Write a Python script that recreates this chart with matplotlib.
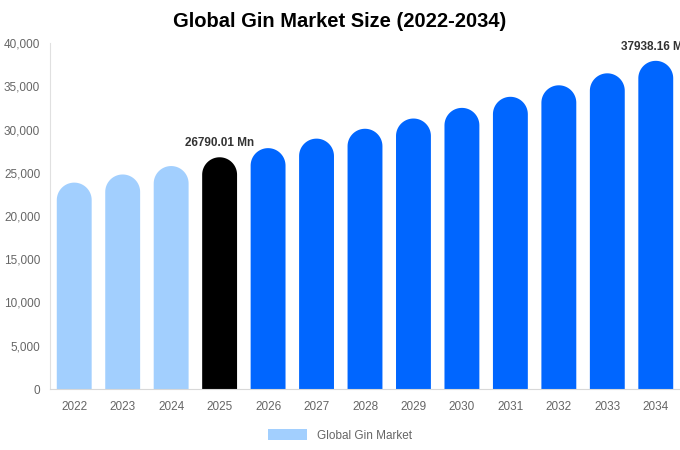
import numpy as np
import matplotlib.pyplot as plt
from matplotlib.patches import PathPatch, Patch
from matplotlib.path import Path

plt.rcParams['font.family'] = ['Liberation Sans', 'DejaVu Sans']

# data
years = ["2022", "2023", "2024", "2025", "2026", "2027", "2028",
         "2029", "2030", "2031", "2032", "2033", "2034"]
values = [23860, 24800, 25775, 26790.01, 27845, 28945, 30085,
          31270, 32500, 33780, 35110, 36495, 37938.16]
colors = ["#a2cffe"] * 3 + ["#000000"] + ["#0066ff"] * 9
labels = {3: "26790.01 Mn", 12: "37938.16 Mn"}

fig = plt.figure(figsize=(6.8, 4.5), dpi=100)
ax = fig.add_axes([50 / 680, 61 / 450, 630 / 680, 346 / 450])
ax.set_xlim(-0.5, len(years) - 0.5)
ax.set_ylim(0, 40000)

# bar with rounded top (half circle in pixels)
w = 0.72
px_per_x = 630 / len(years)
px_per_y = 346 / 40000
r_y = (w * px_per_x / 2) / px_per_y
theta = np.linspace(np.pi, 0, 40)

for i, v in enumerate(values):
    cy = v - r_y
    xs = [i - w / 2] + list(i + w / 2 * np.cos(theta)) + [i + w / 2, i - w / 2]
    ys = [0] + list(cy + r_y * np.sin(theta)) + [0, 0]
    ax.add_patch(PathPatch(Path(np.column_stack([xs, ys]), closed=True),
                           facecolor=colors[i], edgecolor="none"))
    if i in labels:
        ax.text(i, v + 900, labels[i], ha="center", va="bottom",
                fontsize=8.5, fontweight="bold", color="#333333", clip_on=False)

ax.set_xticks(range(len(years)))
ax.set_xticklabels(years)
ax.set_yticks(np.arange(0, 40001, 5000))
ax.set_yticklabels([f"{t:,}" for t in range(0, 40001, 5000)])
ax.tick_params(axis="both", length=0, labelsize=8.5, labelcolor="#666666")
ax.tick_params(axis="x", pad=9)
ax.tick_params(axis="y", pad=7)

for s in ["top", "right"]:
    ax.spines[s].set_visible(False)
ax.spines["left"].set_color("#e0e0e0")
ax.spines["bottom"].set_color("#d8d8d8")

fig.suptitle("Global Gin Market Size (2022-2034)", fontsize=14.5,
             fontweight="bold", y=0.973)

leg = fig.legend(handles=[Patch(facecolor="#a2cffe", label="Global Gin Market")],
                 loc="lower center", bbox_to_anchor=(0.5, -0.005), frameon=False,
                 fontsize=8.5, handlelength=3.3, handleheight=1.0)
for t in leg.get_texts():
    t.set_color("#666666")

fig.savefig("out.png", dpi=100)
